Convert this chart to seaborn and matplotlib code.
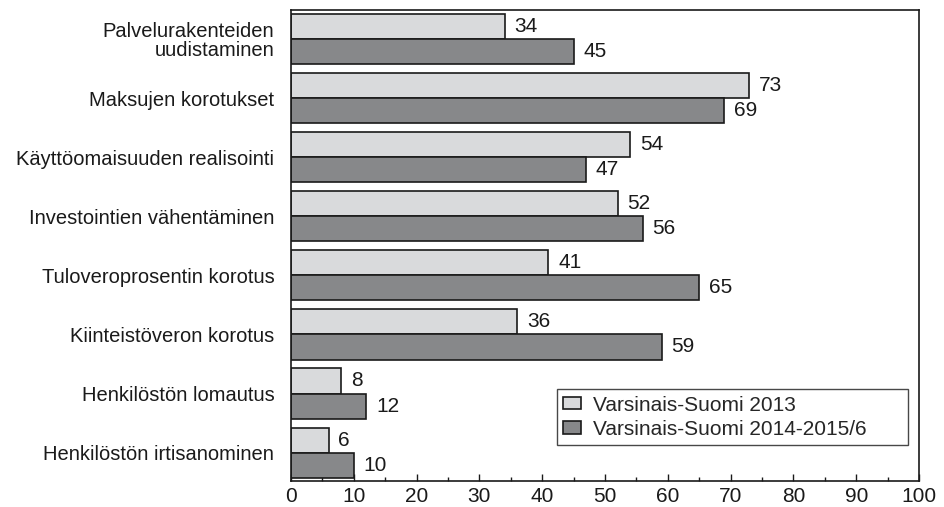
import pandas as pd
import matplotlib
matplotlib.use("Agg")
import matplotlib.pyplot as plt
import seaborn as sns

# ── data ──────────────────────────────────────────────────────────────────────
categories = [
    "Palvelurakenteiden\nuudistaminen",
    "Maksujen korotukset",
    "Käyttöomaisuuden realisointi",
    "Investointien vähentäminen",
    "Tuloveroprosentin korotus",
    "Kiinteistöveron korotus",
    "Henkilöstön lomautus",
    "Henkilöstön irtisanominen",
]
series = ["Varsinais-Suomi 2013", "Varsinais-Suomi 2014-2015/6"]
vals_2013 = [34, 73, 54, 52, 41, 36, 8, 6]
vals_2014 = [45, 69, 47, 56, 65, 59, 12, 10]
x_ticks = [0, 10, 20, 30, 40, 50, 60, 70, 80, 90, 100]

df = pd.DataFrame({
    "category": categories * 2,
    "series": [series[0]] * len(categories) + [series[1]] * len(categories),
    "value": vals_2013 + vals_2014,
})

# ── style ─────────────────────────────────────────────────────────────────────
sns.set_style("white")
plt.rcParams["font.family"] = ["Liberation Sans", "DejaVu Sans"]

fig = plt.figure(figsize=(9.44, 5.07), dpi=100)
# axes box: x 291..919 px, y 10..481 px
ax = fig.add_axes([291 / 944, 1 - 481 / 507, 628 / 944, 471 / 507])

sns.barplot(data=df, y="category", x="value", hue="series", orient="h",
            order=categories, hue_order=series,
            palette=["#d9dadc", "#87888a"], width=0.85,
            edgecolor="#1a1a1a", linewidth=1.2, saturation=1, ax=ax)

for cont in ax.containers:
    ax.bar_label(cont, padding=7, fontsize=15, color="#1a1a1a")

ax.set_xlim(0, 100)
ax.set_ylim(7.48, -0.49)
ax.set_xticks(x_ticks)
ax.set_xticks(range(5, 100, 10), minor=True)
ax.tick_params(axis="x", which="major", direction="in", length=5, width=1,
               pad=4, labelsize=15, bottom=True, colors="#1a1a1a")
ax.tick_params(axis="x", which="minor", direction="in", length=3, width=1, bottom=True,
               colors="#1a1a1a")
ax.tick_params(axis="y", length=0, pad=12, labelsize=14.5, colors="#1a1a1a")
for lbl in ax.get_yticklabels():
    lbl.set_linespacing(1.0)
ax.set_xlabel("")
ax.set_ylabel("")
for s in ax.spines.values():
    s.set_color("#1a1a1a")
    s.set_linewidth(1.2)

leg = ax.legend(loc="lower left", bbox_to_anchor=(0.4236, 0.0764, 0.559, 0.119),
                mode="expand", fontsize=15,
                frameon=True, fancybox=False, edgecolor="#1a1a1a",
                handlelength=0.85, handleheight=0.55, handletextpad=0.6,
                borderpad=0.3, borderaxespad=0, labelspacing=0.25)
leg.get_frame().set_linewidth(1.0)

plt.savefig("out.png", dpi=100)
